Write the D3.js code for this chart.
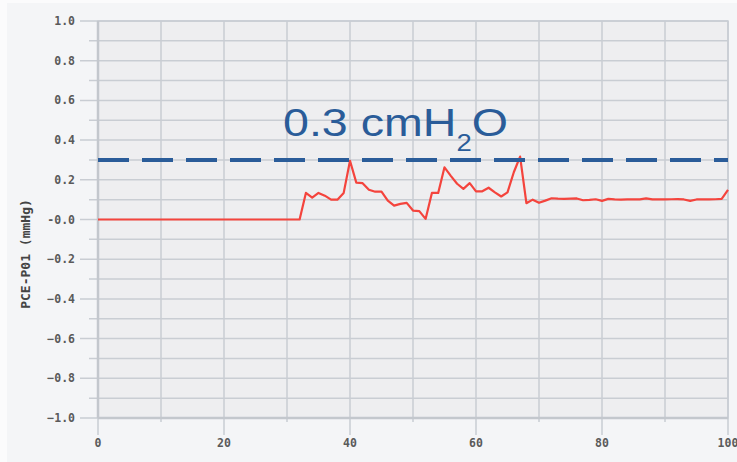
<!DOCTYPE html>
<html>
<head>
<meta charset="utf-8">
<script src="https://cdn.jsdelivr.net/npm/d3@7"></script>
<style>
  html, body { margin: 0; padding: 0; background: #fbfbfc; }
  svg { display: block; }
</style>
</head>
<body>
<svg id="chart" width="737" height="462"></svg>
<script>
// ---- data ----
const xValues = [
  0,1,2,3,4,5,6,7,8,9,10,11,12,13,14,15,16,17,18,19,20,
  21,22,23,24,25,26,27,28,29,30,31,32,33,34,35,36,37,38,39,40,
  41,42,43,44,45,46,47,48,49,50,51,52,53,54,55,56,57,58,59,60,
  61,62,63,64,65,66,67,68,69,70,71,72,73,74,75,76,77,78,79,80,
  81,82,83,84,85,86,87,88,89,90,91,92,93,94,95,96,97,98,99,100
];
const pressure = [
  0,0,0,0,0,0,0,0,0,0,0,0,0,0,0,0,0,0,0,0,0,
  0,0,0,0,0,0,0,0,0,0,0,0,0.134,0.11,0.134,0.12,0.10,0.10,0.134,0.296,
  0.186,0.183,0.15,0.14,0.14,0.095,0.07,0.079,0.084,0.045,0.042,0.003,0.134,0.134,0.263,0.22,0.18,0.154,0.183,0.142,
  0.142,0.16,0.137,0.116,0.137,0.238,0.317,0.082,0.10,0.084,0.095,0.107,0.105,0.104,0.105,0.106,0.097,0.099,0.102,0.094,
  0.104,0.101,0.100,0.101,0.102,0.101,0.106,0.101,0.102,0.101,0.102,0.103,0.101,0.094,0.101,0.101,0.101,0.102,0.104,0.149
];
const thresholdValue = 0.3;
const annotationMain = "0.3 cmH";
const annotationSub = "2";
const annotationTail = "O";
const yAxisTitle = "PCE-P01 (mmHg)";
const xTickValues = [0,20,40,60,80,100];
const yTickValues = [1.0,0.8,0.6,0.4,0.2,0,-0.2,-0.4,-0.6,-0.8,-1.0];
const xMinorValues = [10,30,50,70,90];
const yMinorValues = [0.9,0.7,0.5,0.3,0.1,-0.1,-0.3,-0.5,-0.7,-0.9];

// ---- layout ----
const svg = d3.select("#chart");
const L = 98, R = 728, T = 21, B = 418;
const x = d3.scaleLinear().domain([0,100]).range([L,R]);
const y = d3.scaleLinear().domain([-1,1]).range([B,T]);

// panel background
svg.append("rect").attr("x",7).attr("y",3).attr("width",737-7).attr("height",462-3).attr("fill","#f4f5f7");
// plot background
svg.append("rect").attr("x",L).attr("y",T).attr("width",R-L).attr("height",B-T).attr("fill","#eeeef0");

const gridColor = "#c9cdd3";
const g = svg.append("g");

// vertical grid
g.selectAll(".vg").data(xTickValues.concat(xMinorValues)).enter().append("line")
  .attr("x1", d=>x(d)).attr("x2", d=>x(d)).attr("y1", T)
  .attr("y2", d => xTickValues.includes(d) ? B+17 : B+4)
  .attr("stroke", gridColor).attr("stroke-width", 1.5);
// horizontal grid
g.selectAll(".hg").data(yTickValues.concat(yMinorValues)).enter().append("line")
  .attr("y1", d=>y(d)).attr("y2", d=>y(d)).attr("x2", R)
  .attr("x1", d => yTickValues.some(t => Math.abs(t-d)<1e-9) ? L-18 : L-9)
  .attr("stroke", gridColor).attr("stroke-width", 1.5);

// border
svg.append("rect").attr("x",L).attr("y",T).attr("width",R-L).attr("height",B-T)
  .attr("fill","none").attr("stroke",gridColor).attr("stroke-width",1.5);
// axis lines
svg.append("line").attr("x1",L).attr("x2",R).attr("y1",B).attr("y2",B).attr("stroke","#c3c7cd").attr("stroke-width",2.5);
svg.append("line").attr("x1",L).attr("x2",L).attr("y1",T).attr("y2",B).attr("stroke","#c3c7cd").attr("stroke-width",2.5);

// tick labels
const tickFont = "'DejaVu Sans Mono', monospace";
svg.append("g").selectAll("text").data(yTickValues).enter().append("text")
  .attr("x", 75).attr("y", d=>y(d)).attr("dy","0.35em")
  .attr("text-anchor","end").attr("font-family",tickFont).attr("font-size","11.5px")
  .attr("font-weight","bold").attr("fill","#5a5a5a")
  .text(d => d === 0 ? "-0.0" : d3.format(".1f")(d));
svg.append("g").selectAll("text").data(xTickValues).enter().append("text")
  .attr("x", d=>x(d)).attr("y", 443).attr("dy","0.35em")
  .attr("text-anchor","middle").attr("font-family",tickFont).attr("font-size","11.5px")
  .attr("font-weight","bold").attr("fill","#5a5a5a")
  .text(d => d);

// y axis title
svg.append("text").attr("transform","translate(30,254) rotate(-90)")
  .attr("text-anchor","middle").attr("font-family",tickFont).attr("font-size","13px")
  .attr("font-weight","bold").attr("fill","#444").text(yAxisTitle);

// data line
const line = d3.line().x((d,i)=>x(xValues[i])).y(d=>y(d));
svg.append("path").datum(pressure).attr("d", line)
  .attr("fill","none").attr("stroke","#f4443d").attr("stroke-width",2.2).attr("stroke-linejoin","round");

// threshold line
svg.append("line").attr("x1", x(0)).attr("x2", x(100))
  .attr("y1", y(thresholdValue)).attr("y2", y(thresholdValue))
  .attr("stroke","#2a5c99").attr("stroke-width",4).attr("stroke-dasharray","31,13");

// annotation (horizontally stretched like the reference)
const annG = svg.append("g");
const ann = annG.append("text").attr("x", 0).attr("y", 0)
  .attr("font-family","'Liberation Sans', Arial, sans-serif").attr("font-size","39px")
  .attr("fill","#2a5c99");
ann.append("tspan").text(annotationMain);
ann.append("tspan").attr("dy", 15.5).attr("font-size","23px").text(annotationSub);
ann.append("tspan").attr("dy", -15.5).text(annotationTail);
const bb = ann.node().getBBox();
const targetW = 508 - 283;
const sx = targetW / bb.width;
annG.attr("transform", `translate(283,135.5) scale(${sx},1)`);
</script>
</body>
</html>
